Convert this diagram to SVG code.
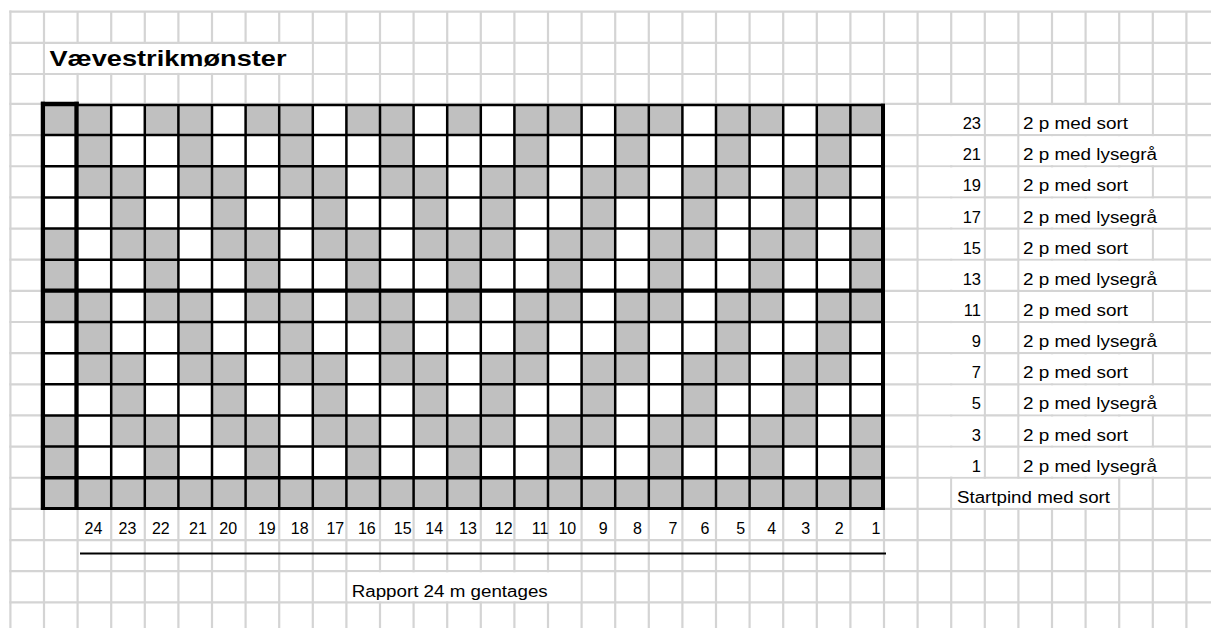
<svg xmlns="http://www.w3.org/2000/svg" xmlns:xlink="http://www.w3.org/1999/xlink" width="1211" height="628" viewBox="0 0 1211 628">
<style>
.grid{stroke:#d4d4d4;stroke-width:2.2;fill:none}
.mask{fill:#fff}
.thin{stroke:#000;stroke-width:2.5;fill:none}
.thick{stroke:#000;fill:none}
text{font-family:"Liberation Sans",Arial,sans-serif;fill:#000}
.t{font-size:16px}
.n{font-size:16.5px;text-anchor:end}
.lbl{font-size:16px;text-anchor:middle}
.title{font-size:22px;font-weight:bold}
</style>
<defs>
<rect id="c" width="33.6" height="31.15" fill="#c0c0c0"/>
</defs>
<rect width="1211" height="628" fill="#fff"/>
<g id="sheet-grid">
<path class="grid" d="M10.4 10.6V628M44 11.7V628M77.6 11.7V628M111.2 11.7V628M144.8 11.7V628M178.4 11.7V628M212 11.7V628M245.6 11.7V628M279.2 11.7V628M312.8 11.7V628M346.4 11.7V628M380 11.7V628M413.6 11.7V628M447.2 11.7V628M480.8 11.7V628M514.4 11.7V628M548 11.7V628M581.6 11.7V628M615.2 11.7V628M648.8 11.7V628M682.4 11.7V628M716 11.7V628M749.6 11.7V628M783.2 11.7V628M816.8 11.7V628M850.4 11.7V628M884 11.7V628M917.6 11.7V628M951.2 11.7V628M984.8 11.7V628M1018.4 11.7V628M1052 11.7V628M1085.6 11.7V628M1119.2 11.7V628M1152.8 11.7V628M1186.4 11.7V628"/>
<path class="grid" d="M9.3 11.7H1211M9.3 42.9H1211M9.3 74H1211M9.3 103.95H1211M9.3 135.1H1211M9.3 166.25H1211M9.3 197.4H1211M9.3 228.55H1211M9.3 259.7H1211M9.3 290.85H1211M9.3 322H1211M9.3 353.15H1211M9.3 384.3H1211M9.3 415.45H1211M9.3 446.6H1211M9.3 477.75H1211M9.3 508.9H1211M9.3 540.05H1211M9.3 571.2H1211M9.3 602.35H1211"/>
<rect class="mask" x="45.2" y="44" width="266.4" height="28.9"/>
<rect class="mask" x="347.6" y="572.3" width="232.8" height="28.9"/>
<rect class="mask" x="918.8" y="105.1" width="64.8" height="28.9"/>
<rect class="mask" x="918.8" y="136.2" width="64.8" height="28.9"/>
<rect class="mask" x="918.8" y="167.4" width="64.8" height="28.9"/>
<rect class="mask" x="918.8" y="198.5" width="64.8" height="28.9"/>
<rect class="mask" x="918.8" y="229.7" width="64.8" height="28.9"/>
<rect class="mask" x="918.8" y="260.8" width="64.8" height="28.9"/>
<rect class="mask" x="918.8" y="292" width="64.8" height="28.9"/>
<rect class="mask" x="918.8" y="323.1" width="64.8" height="28.9"/>
<rect class="mask" x="918.8" y="354.3" width="64.8" height="28.9"/>
<rect class="mask" x="918.8" y="385.4" width="64.8" height="28.9"/>
<rect class="mask" x="918.8" y="416.6" width="64.8" height="28.9"/>
<rect class="mask" x="918.8" y="447.7" width="64.8" height="28.9"/>
<rect class="mask" x="1019.6" y="105.1" width="132" height="28.9"/>
<rect class="mask" x="1019.6" y="136.2" width="165.6" height="28.9"/>
<rect class="mask" x="1019.6" y="167.4" width="132" height="28.9"/>
<rect class="mask" x="1019.6" y="198.5" width="165.6" height="28.9"/>
<rect class="mask" x="1019.6" y="229.7" width="132" height="28.9"/>
<rect class="mask" x="1019.6" y="260.8" width="165.6" height="28.9"/>
<rect class="mask" x="1019.6" y="292" width="132" height="28.9"/>
<rect class="mask" x="1019.6" y="323.1" width="165.6" height="28.9"/>
<rect class="mask" x="1019.6" y="354.3" width="132" height="28.9"/>
<rect class="mask" x="1019.6" y="385.4" width="165.6" height="28.9"/>
<rect class="mask" x="1019.6" y="416.6" width="132" height="28.9"/>
<rect class="mask" x="1019.6" y="447.7" width="165.6" height="28.9"/>
<rect class="mask" x="952.4" y="478.9" width="165.6" height="28.9"/>
</g>
<g id="title">
<text class="title" x="49.5" y="65.5" textLength="237" lengthAdjust="spacingAndGlyphs">Vævestrikmønster</text>
</g>
<g id="chart">
<rect x="44" y="103.95" width="840" height="404.95" fill="#fff"/>
<g id="block">
<use xlink:href="#c" href="#c" x="77.6" y="103.95"/><use href="#c" x="144.8" y="103.95"/><use href="#c" x="178.4" y="103.95"/><use href="#c" x="245.6" y="103.95"/><use href="#c" x="279.2" y="103.95"/><use href="#c" x="346.4" y="103.95"/><use href="#c" x="380" y="103.95"/><use href="#c" x="447.2" y="103.95"/><use href="#c" x="514.4" y="103.95"/><use href="#c" x="548" y="103.95"/><use href="#c" x="615.2" y="103.95"/><use href="#c" x="648.8" y="103.95"/><use href="#c" x="716" y="103.95"/><use href="#c" x="749.6" y="103.95"/><use href="#c" x="816.8" y="103.95"/><use href="#c" x="850.4" y="103.95"/>
<use href="#c" x="77.6" y="135.1"/><use href="#c" x="178.4" y="135.1"/><use href="#c" x="279.2" y="135.1"/><use href="#c" x="380" y="135.1"/><use href="#c" x="514.4" y="135.1"/><use href="#c" x="615.2" y="135.1"/><use href="#c" x="716" y="135.1"/><use href="#c" x="816.8" y="135.1"/>
<use href="#c" x="77.6" y="166.25"/><use href="#c" x="111.2" y="166.25"/><use href="#c" x="178.4" y="166.25"/><use href="#c" x="212" y="166.25"/><use href="#c" x="279.2" y="166.25"/><use href="#c" x="312.8" y="166.25"/><use href="#c" x="380" y="166.25"/><use href="#c" x="413.6" y="166.25"/><use href="#c" x="480.8" y="166.25"/><use href="#c" x="514.4" y="166.25"/><use href="#c" x="581.6" y="166.25"/><use href="#c" x="615.2" y="166.25"/><use href="#c" x="682.4" y="166.25"/><use href="#c" x="716" y="166.25"/><use href="#c" x="783.2" y="166.25"/><use href="#c" x="816.8" y="166.25"/>
<use href="#c" x="111.2" y="197.4"/><use href="#c" x="212" y="197.4"/><use href="#c" x="312.8" y="197.4"/><use href="#c" x="413.6" y="197.4"/><use href="#c" x="480.8" y="197.4"/><use href="#c" x="581.6" y="197.4"/><use href="#c" x="682.4" y="197.4"/><use href="#c" x="783.2" y="197.4"/>
<use href="#c" x="111.2" y="228.55"/><use href="#c" x="144.8" y="228.55"/><use href="#c" x="212" y="228.55"/><use href="#c" x="245.6" y="228.55"/><use href="#c" x="312.8" y="228.55"/><use href="#c" x="346.4" y="228.55"/><use href="#c" x="413.6" y="228.55"/><use href="#c" x="447.2" y="228.55"/><use href="#c" x="480.8" y="228.55"/><use href="#c" x="548" y="228.55"/><use href="#c" x="581.6" y="228.55"/><use href="#c" x="648.8" y="228.55"/><use href="#c" x="682.4" y="228.55"/><use href="#c" x="749.6" y="228.55"/><use href="#c" x="783.2" y="228.55"/><use href="#c" x="850.4" y="228.55"/>
<use href="#c" x="144.8" y="259.7"/><use href="#c" x="245.6" y="259.7"/><use href="#c" x="346.4" y="259.7"/><use href="#c" x="447.2" y="259.7"/><use href="#c" x="548" y="259.7"/><use href="#c" x="648.8" y="259.7"/><use href="#c" x="749.6" y="259.7"/><use href="#c" x="850.4" y="259.7"/>
</g>
<use href="#block" y="186.9"/>
<use href="#c" x="44" y="103.95"/><use href="#c" x="44" y="228.55"/><use href="#c" x="44" y="259.7"/><use href="#c" x="44" y="290.85"/><use href="#c" x="44" y="415.45"/><use href="#c" x="44" y="446.6"/>
<rect x="44" y="477.75" width="840" height="31.15" fill="#c0c0c0"/>
<path class="thin" d="M111.2 104V509M144.8 104V509M178.4 104V509M212 104V509M245.6 104V509M279.2 104V509M312.8 104V509M346.4 104V509M380 104V509M413.6 104V509M447.2 104V509M480.8 104V509M514.4 104V509M548 104V509M581.6 104V509M615.2 104V509M648.8 104V509M682.4 104V509M716 104V509M749.6 104V509M783.2 104V509M816.8 104V509M850.4 104V509"/>
<path class="thin" d="M44 135.1H884M44 166.25H884M44 197.4H884M44 228.55H884M44 259.7H884M44 322H884M44 353.15H884M44 384.3H884M44 415.45H884M44 446.6H884"/>
<path class="thick" stroke-width="2.5" d="M42 105H885"/>
<path class="thick" stroke-width="4" d="M41 103.8H78.7"/>
<path class="thick" stroke-width="4.3" d="M41 290.6H885"/>
<path class="thick" stroke-width="3.5" d="M41 477.7H885"/>
<path class="thick" stroke-width="3.2" d="M41 508.5H885"/>
<path class="thick" stroke-width="4.3" d="M42.9 101.8V510.1M76.5 101.8V510.1"/>
<path class="thick" stroke-width="4" d="M883 103.8V510.1"/>
</g>
<g id="col-labels">
<text class="lbl" x="93.5" y="534">24</text>
<text class="lbl" x="127.5" y="534">23</text>
<text class="lbl" x="160.8" y="534">22</text>
<text class="lbl" x="198" y="534">21</text>
<text class="lbl" x="228.2" y="534">20</text>
<text class="lbl" x="266.8" y="534">19</text>
<text class="lbl" x="299.7" y="534">18</text>
<text class="lbl" x="335.3" y="534">17</text>
<text class="lbl" x="366.8" y="534">16</text>
<text class="lbl" x="402.7" y="534">15</text>
<text class="lbl" x="434.2" y="534">14</text>
<text class="lbl" x="468" y="534">13</text>
<text class="lbl" x="503.7" y="534">12</text>
<text class="lbl" x="540" y="534">11</text>
<text class="lbl" x="567.3" y="534">10</text>
<text class="lbl" x="603.3" y="534">9</text>
<text class="lbl" x="637.5" y="534">8</text>
<text class="lbl" x="673" y="534">7</text>
<text class="lbl" x="705" y="534">6</text>
<text class="lbl" x="740.8" y="534">5</text>
<text class="lbl" x="771.8" y="534">4</text>
<text class="lbl" x="805.8" y="534">3</text>
<text class="lbl" x="839.2" y="534">2</text>
<text class="lbl" x="876" y="534">1</text>
</g>
<g id="repeat">
<path d="M80 553.5H886" stroke="#000" stroke-width="2" fill="none"/>
<text class="t" x="351.7" y="596.5" textLength="196" lengthAdjust="spacingAndGlyphs">Rapport 24 m gentages</text>
</g>
<g id="legend">
<text class="n" x="981" y="129.1">23</text><text class="t" x="1023" y="129.1" textLength="105" lengthAdjust="spacingAndGlyphs">2 p med sort</text>
<text class="n" x="981" y="160.25">21</text><text class="t" x="1023" y="160.25" textLength="134" lengthAdjust="spacingAndGlyphs">2 p med lysegrå</text>
<text class="n" x="981" y="191.4">19</text><text class="t" x="1023" y="191.4" textLength="105" lengthAdjust="spacingAndGlyphs">2 p med sort</text>
<text class="n" x="981" y="222.55">17</text><text class="t" x="1023" y="222.55" textLength="134" lengthAdjust="spacingAndGlyphs">2 p med lysegrå</text>
<text class="n" x="981" y="253.7">15</text><text class="t" x="1023" y="253.7" textLength="105" lengthAdjust="spacingAndGlyphs">2 p med sort</text>
<text class="n" x="981" y="284.85">13</text><text class="t" x="1023" y="284.85" textLength="134" lengthAdjust="spacingAndGlyphs">2 p med lysegrå</text>
<text class="n" x="981" y="316">11</text><text class="t" x="1023" y="316" textLength="105" lengthAdjust="spacingAndGlyphs">2 p med sort</text>
<text class="n" x="981" y="347.15">9</text><text class="t" x="1023" y="347.15" textLength="134" lengthAdjust="spacingAndGlyphs">2 p med lysegrå</text>
<text class="n" x="981" y="378.3">7</text><text class="t" x="1023" y="378.3" textLength="105" lengthAdjust="spacingAndGlyphs">2 p med sort</text>
<text class="n" x="981" y="409.45">5</text><text class="t" x="1023" y="409.45" textLength="134" lengthAdjust="spacingAndGlyphs">2 p med lysegrå</text>
<text class="n" x="981" y="440.6">3</text><text class="t" x="1023" y="440.6" textLength="105" lengthAdjust="spacingAndGlyphs">2 p med sort</text>
<text class="n" x="981" y="471.75">1</text><text class="t" x="1023" y="471.75" textLength="134" lengthAdjust="spacingAndGlyphs">2 p med lysegrå</text>
<text class="t" x="957" y="502.9" textLength="153" lengthAdjust="spacingAndGlyphs">Startpind med sort</text>
</g>
</svg>
